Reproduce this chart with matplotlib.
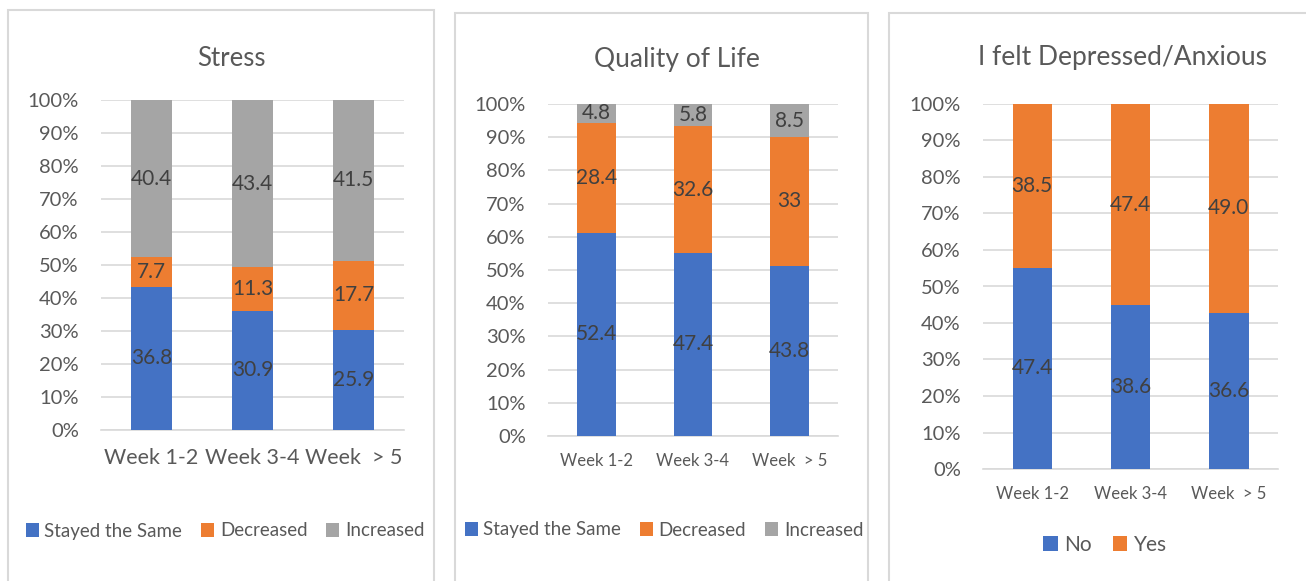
import numpy as np
import matplotlib.pyplot as plt
from matplotlib.patches import Rectangle

plt.rcParams['font.family'] = ['Lato', 'DejaVu Sans']

weeks = ["Week 1-2", "Week 3-4", "Week  > 5"]

stress_same = [36.8, 30.9, 25.9]
stress_decreased = [7.7, 11.3, 17.7]
stress_increased = [40.4, 43.4, 41.5]

qol_same = [52.4, 47.4, 43.8]
qol_decreased = [28.4, 32.6, 33]
qol_increased = [4.8, 5.8, 8.5]
qol_labels_decreased = ["28.4", "32.6", "33"]

dep_no = [47.4, 38.6, 36.6]
dep_yes = [38.5, 47.4, 49.0]

BLUE = "#4472C4"
ORANGE = "#ED7D31"
GRAY = "#A5A5A5"
TXT = "#595959"
LBL = "#404040"

W, H = 1306, 581
fig = plt.figure(figsize=(W / 100, H / 100), dpi=100)


def fx(px):
    return px / W


def fy(py):
    return 1 - py / H


def panel_box(x0, y0, x1):
    # open at the bottom: the panel runs past the lower edge of the image
    fig.patches.append(Rectangle((fx(x0), -0.1), fx(x1) - fx(x0), fy(y0) + 0.1,
                                 transform=fig.transFigure, fill=False,
                                 edgecolor="#D9D9D9", lw=1.5))


def stacked(ax, series, names, colors, labels, xfs, lfs=15):
    series = [np.array(s, dtype=float) for s in series]
    total = sum(series)
    x = np.arange(len(weeks))
    bottom = np.zeros(len(weeks))
    for s, name, c, lab in zip(series, names, colors, labels):
        pct = s / total * 100
        ax.bar(x, pct, 0.4, bottom=bottom, color=c, label=name, zorder=3)
        for i in range(len(x)):
            ax.text(x[i], bottom[i] + pct[i] / 2, lab[i], ha="center", va="center",
                    fontsize=lfs, color=LBL, zorder=4)
        bottom += pct
    ax.set_xlim(-0.5, len(weeks) - 0.5)
    ax.set_ylim(0, 100)
    ax.set_yticks(np.arange(0, 101, 10))
    ax.set_yticklabels([f"{v}%" for v in range(0, 101, 10)])
    ax.set_xticks(x)
    ax.set_xticklabels(weeks)
    ax.tick_params(axis="y", length=0, pad=16, labelsize=14.5, labelcolor=TXT)
    ax.tick_params(axis="x", length=0, pad=12, labelsize=xfs, labelcolor=TXT)
    ax.grid(axis="y", color="#D9D9D9", lw=1.2, zorder=0)
    for sp in ax.spines.values():
        sp.set_visible(False)
    ax.spines["bottom"].set_visible(True)
    ax.spines["bottom"].set_color("#D9D9D9")
    ax.spines["bottom"].set_linewidth(1.2)


def fmt(vals):
    return [f"{v:.1f}" for v in vals]


legend_kw = dict(loc="center", frameon=False, handlelength=0.7, handleheight=0.7,
                 handletextpad=0.3, columnspacing=1.0, labelcolor=TXT)

# Stress
panel_box(8, 10, 434)
ax1 = fig.add_axes([fx(101), fy(430), fx(404) - fx(101), fy(100) - fy(430)])
stacked(ax1, [stress_same, stress_decreased, stress_increased],
        ["Stayed the Same", "Decreased", "Increased"], [BLUE, ORANGE, GRAY],
        [fmt(stress_same), fmt(stress_decreased), fmt(stress_increased)], xfs=15.5)
ax1.tick_params(axis="x", pad=13)
fig.text(fx(231), fy(58), "Stress", ha="center", va="center", fontsize=18.5, color=TXT)
fig.legend(*ax1.get_legend_handles_labels(), bbox_to_anchor=(fx(225), fy(531)),
           ncol=3, fontsize=13.5, **legend_kw)

# Quality of Life
panel_box(455, 13, 868)
ax2 = fig.add_axes([fx(548), fy(436), fx(838) - fx(548), fy(104) - fy(436)])
stacked(ax2, [qol_same, qol_decreased, qol_increased],
        ["Stayed the Same", "Decreased", "Increased"], [BLUE, ORANGE, GRAY],
        [fmt(qol_same), qol_labels_decreased, fmt(qol_increased)], xfs=12)
fig.text(fx(677), fy(60), "Quality of Life", ha="center", va="center", fontsize=19, color=TXT)
fig.legend(*ax2.get_legend_handles_labels(), bbox_to_anchor=(fx(664), fy(530)),
           ncol=3, fontsize=13.5, **legend_kw)

# Depressed / Anxious
panel_box(889, 13, 1320)
ax3 = fig.add_axes([fx(983), fy(469), fx(1278) - fx(983), fy(104) - fy(469)])
stacked(ax3, [dep_no, dep_yes], ["No", "Yes"], [BLUE, ORANGE],
        [fmt(dep_no), fmt(dep_yes)], xfs=12)
fig.text(fx(1123), fy(57), "I felt Depressed/Anxious", ha="center", va="center",
         fontsize=19, color=TXT)
fig.legend(*ax3.get_legend_handles_labels(), bbox_to_anchor=(fx(1105), fy(545)),
           ncol=2, fontsize=15, **legend_kw)

fig.savefig("out.png", dpi=100)
